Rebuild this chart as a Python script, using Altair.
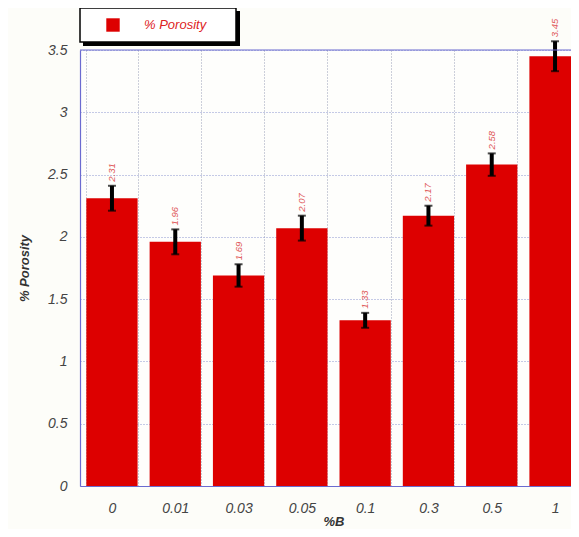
import altair as alt
import pandas as pd

categories = ["0", "0.01", "0.03", "0.05", "0.1", "0.3", "0.5", "1"]
porosity = [2.31, 1.96, 1.69, 2.07, 1.33, 2.17, 2.58, 3.45]
errors = [0.10, 0.10, 0.09, 0.10, 0.06, 0.08, 0.09, 0.12]
value_labels = ["2.31", "1.96", "1.69", "2.07", "1.33", "2.17", "2.58", "3.45"]
y_ticks = [0, 0.5, 1, 1.5, 2, 2.5, 3, 3.5]

df = pd.DataFrame({
    "cat": categories,
    "val": porosity,
    "lo": [v - e for v, e in zip(porosity, errors)],
    "hi": [v + e for v, e in zip(porosity, errors)],
    "lab": value_labels,
})

FONT = "Liberation Sans"
RED = "#dd0000"
FRAME = "#6b6bd0"

xscale = alt.Scale(range=[0, 507], paddingInner=0.19, paddingOuter=0.1)
yscale = alt.Scale(domain=[0, 3.5], nice=False, zero=True)

xenc = alt.X(
    "cat:N", sort=categories, scale=xscale,
    axis=alt.Axis(
        title="%B", labelAngle=0, labelFont=FONT, labelFontStyle="italic",
        labelFontSize=14, labelColor="#444", labelPadding=15, ticks=False,
        domain=True, domainColor=FRAME, domainWidth=1.2,
        grid=True, tickBand="extent", gridColor="#9aa0b8",
        gridDash=[1, 2], gridWidth=1, titleFont=FONT, titleFontStyle="italic",
        titleFontWeight="bold", titleFontSize=13, titleColor="#333",
        titlePadding=0,
    ),
)
yenc = alt.Y(
    "val:Q", scale=yscale,
    axis=alt.Axis(
        title="% Porosity", values=y_ticks, format="~g", labelFont=FONT,
        labelFontStyle="italic", labelFontSize=14, labelColor="#444",
        labelPadding=13, ticks=False, domain=True, domainColor=FRAME,
        domainWidth=1.2, grid=True,
        gridColor="#8c96d0", gridDash=[1, 2], gridWidth=1, titleFont=FONT,
        titleFontStyle="italic", titleFontWeight="bold", titleFontSize=13,
        titleColor="#333", titlePadding=16,
    ),
)

base = alt.Chart(df)

bars = base.mark_bar(color=RED).encode(x=xenc, y=yenc)

err = base.mark_rule(color="black", strokeWidth=4).encode(
    x=alt.X("cat:N", sort=categories, scale=xscale),
    y=alt.Y("lo:Q", scale=yscale),
    y2="hi:Q",
)
caps_hi = base.mark_tick(color="black", thickness=2, size=8, orient="horizontal").encode(
    x=alt.X("cat:N", sort=categories, scale=xscale),
    y=alt.Y("hi:Q", scale=yscale),
)
caps_lo = base.mark_tick(color="black", thickness=2, size=8, orient="horizontal").encode(
    x=alt.X("cat:N", sort=categories, scale=xscale),
    y=alt.Y("lo:Q", scale=yscale),
)

labels = base.mark_text(
    angle=270, align="left", baseline="middle", dx=4, font=FONT,
    fontStyle="italic", fontSize=9.5, color="#e05a5a",
).encode(
    x=alt.X("cat:N", sort=categories, scale=xscale),
    y=alt.Y("hi:Q", scale=yscale),
    text="lab:N",
)

one = alt.Data(values=[{"k": 1}])
top_border = alt.Chart(one).mark_rule(color=FRAME, strokeWidth=1.2).encode(
    x=alt.value(0), x2=alt.value(520), y=alt.value(0)
)
shadow = alt.Chart(one).mark_rect(color="black").encode(
    x=alt.value(3), x2=alt.value(160), y=alt.value(-39), y2=alt.value(-4)
)
box = alt.Chart(one).mark_rect(fill="white", stroke="black", strokeWidth=1.5).encode(
    x=alt.value(0), x2=alt.value(156), y=alt.value(-42), y2=alt.value(-8)
)
sym = alt.Chart(one).mark_square(color=RED, size=180, opacity=1).encode(
    x=alt.value(33), y=alt.value(-25)
)
legtext = alt.Chart(one).mark_text(
    text="% Porosity", align="left", baseline="middle", font=FONT,
    fontStyle="italic", fontSize=13, color="#dd2222",
).encode(x=alt.value(64), y=alt.value(-25))

chart = alt.layer(
    bars, err, caps_hi, caps_lo, labels, top_border, shadow, box, sym, legtext
).properties(
    width=491, height=436,
    autosize=alt.AutoSizeParams(type="none"),
    padding={"left": 72, "top": 42, "right": 0, "bottom": 43},
    background="#fdfdf9",
).configure_view(stroke=None, fill="#fefefc")

chart.save("out.html", embed_options={"renderer": "svg", "actions": False})
